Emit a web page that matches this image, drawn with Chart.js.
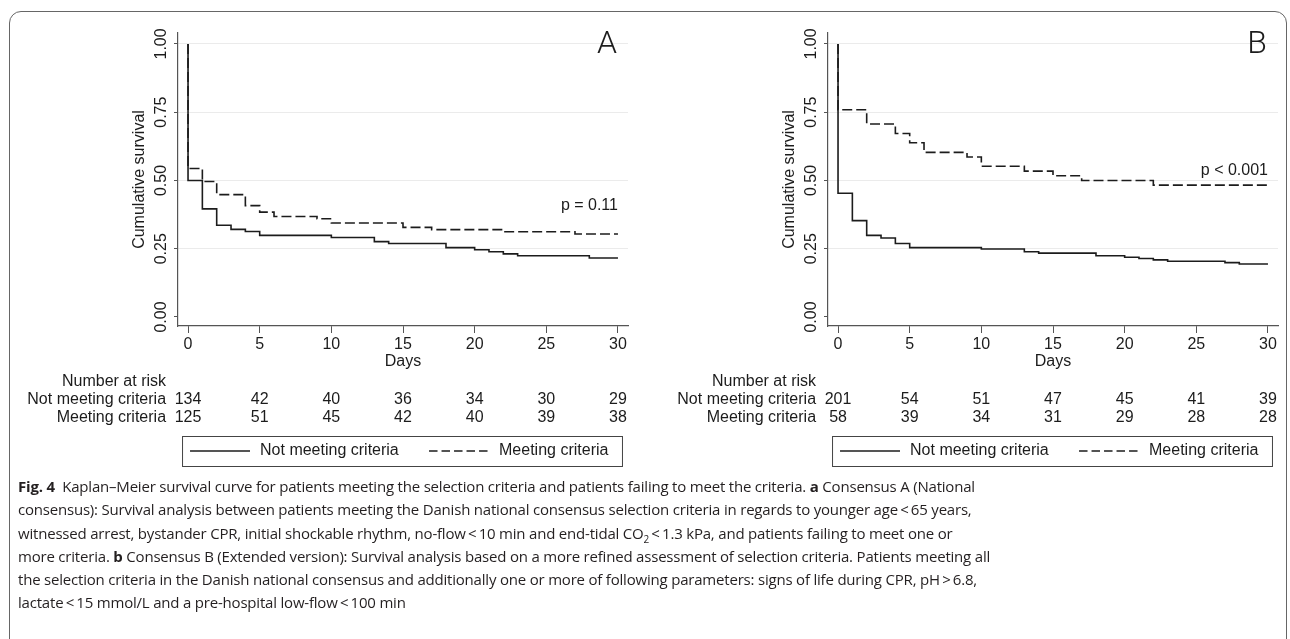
<!DOCTYPE html>
<html>
<head>
<meta charset="utf-8">
<script src="https://cdn.jsdelivr.net/npm/chart.js@4.4.1/dist/chart.umd.min.js"></script>
<style>
  body { margin: 0; background: #fff; width: 1290px; height: 639px; overflow: hidden; position: relative; }
  #frame { position: absolute; left: 9px; top: 11px; width: 1278px; height: 720px; border: 1.5px solid #666; border-radius: 12px; box-sizing: border-box; }
  .panel { position: absolute; top: 0; width: 645px; height: 480px; }
  #caption { position: absolute; left: 18px; top: 475px; font-family: 'Open Sans', sans-serif; font-size: 15px; color: #231f20; line-height: 23.3px; letter-spacing: -0.2px; }
  #caption div { white-space: nowrap; }
  sub { font-size: 10px; line-height: 0; }
</style>
</head>
<body>
<div id="frame"></div>
<div class="panel" style="left:0"><canvas id="chartA" width="645" height="480"></canvas></div>
<div class="panel" style="left:650px"><canvas id="chartB" width="645" height="480"></canvas></div>
<div id="caption">
  <div><b>Fig. 4</b>&nbsp; Kaplan–Meier survival curve for patients meeting the selection criteria and patients failing to meet the criteria. <b>a</b> Consensus A (National</div>
  <div>consensus): Survival analysis between patients meeting the Danish national consensus selection criteria in regards to younger age&thinsp;&lt;&thinsp;65 years,</div>
  <div>witnessed arrest, bystander CPR, initial shockable rhythm, no-flow&thinsp;&lt;&thinsp;10 min and end-tidal CO<sub>2</sub>&thinsp;&lt;&thinsp;1.3 kPa, and patients failing to meet one or</div>
  <div>more criteria. <b>b</b> Consensus B (Extended version): Survival analysis based on a more refined assessment of selection criteria. Patients meeting all</div>
  <div>the selection criteria in the Danish national consensus and additionally one or more of following parameters: signs of life during CPR, pH&thinsp;&gt;&thinsp;6.8,</div>
  <div>lactate&thinsp;&lt;&thinsp;15 mmol/L and a pre-hospital low-flow&thinsp;&lt;&thinsp;100 min</div>
</div>
<script>
var xTicks = [0, 5, 10, 15, 20, 25, 30];
var yTicks = [0, 0.25, 0.5, 0.75, 1];
var yTickLabels = ['0.00', '0.25', '0.50', '0.75', '1.00'];
var groupLabels = ['Not meeting criteria', 'Meeting criteria'];

// Consensus A
var daysA_not = [0, 0, 1, 2, 3, 4, 5, 10, 13, 14, 18, 20, 21, 22, 23, 28, 30];
var survA_not = [1, 0.5, 0.396, 0.336, 0.321, 0.313, 0.299, 0.291, 0.276, 0.269, 0.254, 0.246, 0.239, 0.231, 0.224, 0.216, 0.216];
var daysA_meet = [0, 0, 1, 2, 4, 5, 6, 9, 10, 15, 17, 22, 27, 30];
var survA_meet = [1, 0.544, 0.496, 0.448, 0.408, 0.384, 0.368, 0.36, 0.344, 0.328, 0.32, 0.312, 0.304, 0.304];
var riskA_not = [134, 42, 40, 36, 34, 30, 29];
var riskA_meet = [125, 51, 45, 42, 40, 39, 38];

// Consensus B
var daysB_not = [0, 0, 1, 2, 3, 4, 5, 10, 13, 14, 18, 20, 21, 22, 23, 27, 28, 30];
var survB_not = [1, 0.453, 0.353, 0.299, 0.289, 0.269, 0.254, 0.249, 0.239, 0.234, 0.224, 0.219, 0.214, 0.209, 0.204, 0.199, 0.194, 0.194];
var daysB_meet = [0, 0, 2, 4, 5, 6, 9, 10, 13, 15, 17, 22, 30];
var survB_meet = [1, 0.759, 0.707, 0.672, 0.638, 0.603, 0.586, 0.552, 0.534, 0.517, 0.5, 0.483, 0.483];
var riskB_not = [201, 54, 51, 47, 45, 41, 39];
var riskB_meet = [58, 39, 34, 31, 29, 28, 28];

var FONT = '"Liberation Sans", Arial, sans-serif';
var INK = '#1c1c1c';
var AXIS = '#555';

function toPoints(days, surv) {
  var pts = [];
  for (var i = 0; i < days.length; i++) {
    pts.push({ x: days[i], y: surv[i] });
  }
  return pts;
}

// draws the Stata style bits the library has no option for
var stataText = {
  id: 'stataText',
  afterDraw: function (chart) {
    var o = chart.options.plugins.stataText;
    var ctx = chart.ctx;
    var xs = chart.scales.x;
    var ys = chart.scales.y;
    var area = chart.chartArea;
    ctx.save();
    ctx.fillStyle = INK;
    ctx.font = '16px ' + FONT;

    // rotated y tick labels
    yTicks.forEach(function (v, i) {
      ctx.save();
      ctx.translate(area.left - 16, ys.getPixelForValue(v));
      ctx.rotate(-Math.PI / 2);
      ctx.textAlign = 'center';
      ctx.textBaseline = 'middle';
      ctx.fillText(yTickLabels[i], 0, 0);
      ctx.restore();
    });

    // y title
    ctx.save();
    ctx.translate(area.left - 38, (area.top + area.bottom) / 2);
    ctx.rotate(-Math.PI / 2);
    ctx.textAlign = 'center';
    ctx.textBaseline = 'middle';
    ctx.fillText('Cumulative survival', 0, 0);
    ctx.restore();

    ctx.textBaseline = 'middle';
    ctx.textAlign = 'center';
    ctx.fillText('Days', (xs.getPixelForValue(0) + xs.getPixelForValue(30)) / 2, area.bottom + 36);

    // number at risk table
    var labelRight = xs.getPixelForValue(0) - 22;
    ctx.textAlign = 'right';
    ctx.fillText('Number at risk', labelRight, area.bottom + 56);
    ctx.fillText(groupLabels[0], labelRight, area.bottom + 74);
    ctx.fillText(groupLabels[1], labelRight, area.bottom + 92);
    ctx.textAlign = 'center';
    xTicks.forEach(function (t, i) {
      var px = xs.getPixelForValue(t);
      ctx.fillText(String(o.riskNot[i]), px, area.bottom + 74);
      ctx.fillText(String(o.riskMeet[i]), px, area.bottom + 92);
    });

    // p value
    ctx.textAlign = 'right';
    ctx.fillText(o.pText, xs.getPixelForValue(30), ys.getPixelForValue(o.pY));

    // panel letter
    ctx.textAlign = 'center';
    ctx.font = '300 32px Roboto, ' + FONT;
    ctx.fillText(o.letter, area.right - 21, ys.getPixelForValue(1) + 1);

    // legend box
    var boxL = xs.getPixelForValue(0) - 6;
    var boxR = xs.getPixelForValue(30) + 4;
    var boxT = area.bottom + 110;
    var boxB = area.bottom + 140;
    var midY = (boxT + boxB) / 2;
    ctx.strokeStyle = '#444';
    ctx.lineWidth = 1;
    ctx.strokeRect(boxL + 0.5, boxT + 0.5, boxR - boxL, boxB - boxT);
    ctx.strokeStyle = INK;
    ctx.lineWidth = 1.6;
    ctx.beginPath();
    ctx.moveTo(boxL + 8, midY);
    ctx.lineTo(boxL + 68, midY);
    ctx.stroke();
    ctx.setLineDash([8.5, 4]);
    ctx.beginPath();
    ctx.moveTo(boxL + 247, midY);
    ctx.lineTo(boxL + 308, midY);
    ctx.stroke();
    ctx.setLineDash([]);
    ctx.font = '16px ' + FONT;
    ctx.textAlign = 'left';
    ctx.fillText(groupLabels[0], boxL + 78, midY);
    ctx.fillText(groupLabels[1], boxL + 317, midY);
    ctx.restore();
  }
};

function makePanel(canvasId, letter, pText, pY, notDays, notSurv, meetDays, meetSurv, riskNot, riskMeet) {
  var canvas = document.getElementById(canvasId);
  return new Chart(canvas, {
    type: 'line',
    data: {
      datasets: [
        {
          label: groupLabels[0],
          data: toPoints(notDays, notSurv),
          borderColor: INK,
          borderWidth: 1.6,
          pointRadius: 0,
          stepped: 'before',
          fill: false
        },
        {
          label: groupLabels[1],
          data: toPoints(meetDays, meetSurv),
          borderColor: INK,
          borderWidth: 1.6,
          borderDash: [10, 4],
          pointRadius: 0,
          stepped: 'before',
          fill: false
        }
      ]
    },
    options: {
      responsive: false,
      animation: false,
      events: [],
      layout: { padding: { left: 0, top: 33, right: 17, bottom: 0 } },
      plugins: {
        legend: { display: false },
        tooltip: { enabled: false },
        stataText: { letter: letter, pText: pText, pY: pY, riskNot: riskNot, riskMeet: riskMeet }
      },
      scales: {
        x: {
          type: 'linear',
          min: -0.7,
          max: 30.7,
          afterBuildTicks: function (scale) {
            scale.ticks = xTicks.map(function (v) { return { value: v }; });
          },
          afterFit: function (scale) { scale.height = 154; },
          ticks: { color: INK, font: { size: 16, family: FONT }, padding: 2, maxRotation: 0 },
          grid: { drawOnChartArea: false, tickLength: 7, tickColor: AXIS },
          border: { color: AXIS, width: 1.2 }
        },
        y: {
          type: 'linear',
          min: -0.033,
          max: 1.04,
          afterBuildTicks: function (scale) {
            scale.ticks = yTicks.map(function (v) { return { value: v }; });
          },
          afterFit: function (scale) { scale.width = 178; },
          ticks: { display: false },
          grid: {
            color: function (c) { return c.tick && c.tick.value === 0 ? 'rgba(0,0,0,0)' : '#ebebeb'; },
            tickLength: 4,
            tickColor: AXIS
          },
          border: { color: AXIS, width: 1.2 }
        }
      }
    },
    plugins: [stataText]
  });
}

makePanel('chartA', 'A', 'p = 0.11', 0.407, daysA_not, survA_not, daysA_meet, survA_meet, riskA_not, riskA_meet);
makePanel('chartB', 'B', 'p < 0.001', 0.536, daysB_not, survB_not, daysB_meet, survB_meet, riskB_not, riskB_meet);
</script>
</body>
</html>
